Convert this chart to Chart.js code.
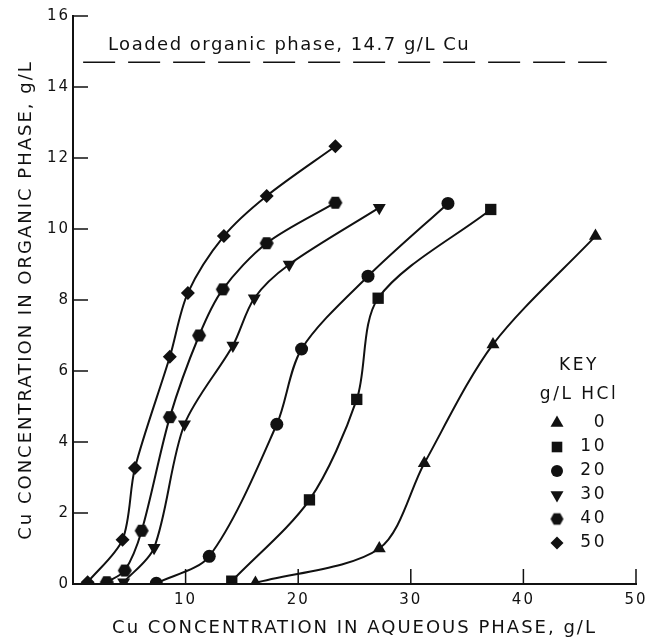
<!DOCTYPE html>
<html>
<head>
<meta charset="utf-8">
<script src="https://cdn.jsdelivr.net/npm/chart.js@4.4.1/dist/chart.umd.min.js"></script>
<style>
html, body { margin: 0; padding: 0; background: #fff; }
</style>
</head>
<body>
<canvas id="graphCanvas" width="659" height="644"></canvas>
<script>
//--------------------- DATA -------------------------
const hclKeys = ['0', '10', '20', '30', '40', '50'];

const aq0  = [16.2, 27.2, 31.2, 37.3, 46.4];
const org0 = [0.03, 1.0, 3.4, 6.75, 9.8];

const aq10  = [14.1, 21.0, 25.2, 27.1, 37.1];
const org10 = [0.08, 2.37, 5.2, 8.05, 10.55];

const aq20  = [7.4, 12.1, 18.1, 20.3, 26.2, 33.3];
const org20 = [0.02, 0.78, 4.5, 6.62, 8.67, 10.72];

const aq30  = [4.5, 7.2, 9.9, 14.2, 16.1, 19.2, 27.2];
const org30 = [0.05, 1.02, 4.5, 6.72, 8.05, 9.0, 10.6];

const aq40  = [3.0, 4.6, 6.1, 8.6, 11.2, 13.3, 17.2, 23.3];
const org40 = [0.05, 0.38, 1.5, 4.7, 7.0, 8.3, 9.6, 10.74];

const aq50  = [1.3, 4.4, 5.5, 8.6, 10.2, 13.4, 17.2, 23.3];
const org50 = [0.05, 1.25, 3.27, 6.4, 8.2, 9.8, 10.93, 12.33];

const loadedLevel = 14.7;
const loadedSpan = [0.9, 47.4];
const loadedLabel = 'Loaded organic phase, 14.7 g/L Cu';

const xTicks = [0, 10, 20, 30, 40, 50];
const yTicks = [0, 2, 4, 6, 8, 10, 12, 14, 16];

//--------------------- STYLES -------------------------
const ink = '#111';
const FONT = "'DejaVu Sans', sans-serif";

function hexagon(r) {
    const c = document.createElement('canvas');
    c.width = c.height = Math.ceil(2 * r) + 2;
    const g = c.getContext('2d');
    g.fillStyle = ink;
    g.beginPath();
    for (let i = 0; i < 6; i++) {
        const a = i * Math.PI / 3;
        g.lineTo(c.width / 2 + r * Math.cos(a), c.height / 2 + r * Math.sin(a));
    }
    g.closePath();
    g.fill();
    return c;
}

// marker per HCl level (0,10,20,30,40,50)
const markers = [
    { style: 'triangle', rot: 0,   r: 7.5, key: 7.5 },
    { style: 'rect',     rot: 0,   r: 8,   key: 7.5 },
    { style: 'circle',   rot: 0,   r: 6.5, key: 6 },
    { style: 'triangle', rot: 180, r: 7.5, key: 7.5 },
    { style: hexagon(7), rot: 0,   r: 7,   keyStyle: hexagon(6.5) },
    { style: 'rectRot',  rot: 0,   r: 7,   key: 6.5 }
];

const series = [[aq0, org0], [aq10, org10], [aq20, org20], [aq30, org30], [aq40, org40], [aq50, org50]];

function pts(xs, ys) {
    return xs.map((x, i) => ({ x: x, y: ys[i] }));
}

// SETUP BLOCK
const datasets = series.map((s, i) => ({
    label: hclKeys[i],
    data: pts(s[0], s[1]),
    borderColor: ink,
    borderWidth: 2,
    backgroundColor: ink,
    pointBackgroundColor: ink,
    pointBorderWidth: 0,
    pointStyle: markers[i].style,
    pointRotation: markers[i].rot,
    pointRadius: markers[i].r,
    tension: 0.3,
    fill: false
}));

datasets.push({
    label: 'loaded',
    data: loadedSpan.map(x => ({ x: x, y: loadedLevel })),
    borderColor: ink,
    borderWidth: 1.5,
    borderDash: [32, 13],
    pointRadius: 0,
    tension: 0,
    fill: false
});

//--------------------- PLUGINS -------------------------
const spacing = {
    id: 'spacing',
    beforeDraw(chart) {
        chart.ctx.letterSpacing = '2px';
    }
};

const inwardTicks = {
    id: 'inwardTicks',
    afterDraw(chart) {
        const { ctx, chartArea: a, scales: { x, y } } = chart;
        ctx.save();
        ctx.strokeStyle = ink;
        ctx.lineWidth = 1.5;
        ctx.beginPath();
        xTicks.filter(v => v > 0).forEach(v => {
            const px = x.getPixelForValue(v);
            ctx.moveTo(px, a.bottom);
            ctx.lineTo(px, a.bottom - 15);
        });
        yTicks.filter(v => v > 0).forEach(v => {
            const py = y.getPixelForValue(v);
            ctx.moveTo(a.left, py);
            ctx.lineTo(a.left + 15, py);
        });
        ctx.stroke();
        ctx.restore();
    }
};

function drawMarker(ctx, m, cx, cy) {
    const st = m.keyStyle || m.style;
    if (typeof st !== 'string') {
        ctx.drawImage(st, cx - st.width / 2, cy - st.height / 2);
        return;
    }
    if (Chart.helpers && Chart.helpers.drawPoint) {
        Chart.helpers.drawPoint(ctx, { pointStyle: st, rotation: m.rot, radius: m.key, borderWidth: 0 }, cx, cy);
    }
}

const keyBox = {
    id: 'keyBox',
    afterDraw(chart) {
        const { ctx, chartArea: a } = chart;
        ctx.save();
        ctx.fillStyle = ink;
        ctx.strokeStyle = ink;
        ctx.letterSpacing = '2.5px';
        ctx.font = '17px ' + FONT;
        ctx.textAlign = 'center';
        ctx.textBaseline = 'middle';
        const cx = a.right - 57;
        ctx.fillText('KEY', cx, a.top + 350);
        ctx.fillText('g/L HCl', cx, a.top + 379);
        ctx.textAlign = 'right';
        hclKeys.forEach((k, i) => {
            const ry = a.top + 407 + i * 24;
            ctx.fillText(k, a.right - 29, ry);
            drawMarker(ctx, markers[i], a.right - 79, ry);
        });
        // annotation over the dashed line
        const { x, y } = chart.scales;
        ctx.letterSpacing = '1.5px';
        ctx.font = '18px ' + FONT;
        ctx.textAlign = 'left';
        ctx.textBaseline = 'alphabetic';
        ctx.fillText(loadedLabel, x.getPixelForValue(3.1), y.getPixelForValue(15.05));
        ctx.restore();
    }
};

// CONFIG BLOCK
const tickFont = { family: FONT, size: 15 };
const titleFont = { family: FONT, size: 18 };

const config = {
    type: 'line',
    data: { datasets },
    options: {
        responsive: false,
        animation: false,
        devicePixelRatio: 1,
        layout: { padding: { top: 16, right: 23, left: 0, bottom: 0 } },
        plugins: {
            legend: { display: false },
            tooltip: { enabled: false }
        },
        scales: {
            x: {
                type: 'linear',
                min: 0,
                max: 50,
                afterFit(s) { s.height = 60; },
                afterBuildTicks(s) { s.ticks = xTicks.map(v => ({ value: v })); },
                grid: { display: false, drawTicks: false },
                border: { display: true, color: ink, width: 2 },
                ticks: {
                    color: ink,
                    font: tickFont,
                    padding: 7,
                    callback: v => (v === 0 ? '' : v)
                },
                title: {
                    display: true,
                    text: 'Cu CONCENTRATION IN AQUEOUS PHASE, g/L',
                    color: ink,
                    font: titleFont,
                    padding: { top: 0, bottom: 5 }
                }
            },
            y: {
                type: 'linear',
                min: 0,
                max: 16,
                afterFit(s) { s.width = 73; },
                afterBuildTicks(s) { s.ticks = yTicks.map(v => ({ value: v })); },
                grid: { display: false, drawTicks: false },
                border: { display: true, color: ink, width: 2 },
                ticks: {
                    color: ink,
                    font: tickFont,
                    padding: 3
                },
                title: {
                    display: true,
                    text: 'Cu CONCENTRATION IN ORGANIC PHASE, g/L',
                    color: ink,
                    font: titleFont,
                    padding: { top: 16, bottom: 0 }
                }
            }
        }
    },
    plugins: [spacing, inwardTicks, keyBox]
};

// RENDER BLOCK
const graphCanvas = new Chart(
    document.getElementById('graphCanvas').getContext('2d'),
    config
);
</script>
</body>
</html>
